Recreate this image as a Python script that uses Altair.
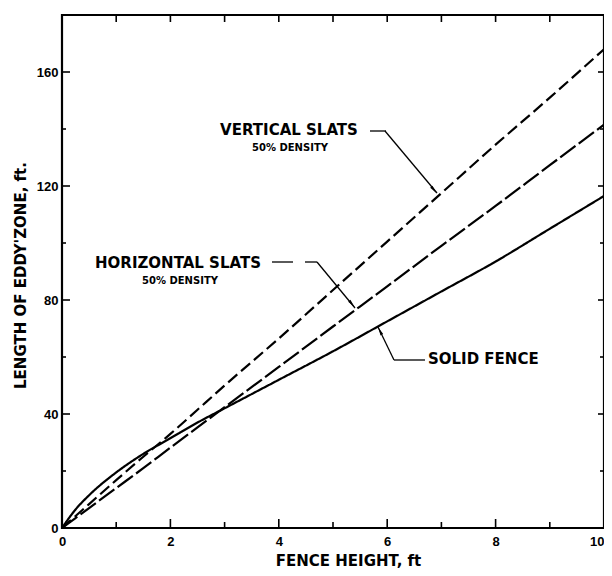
import altair as alt
import pandas as pd

# ---- data ----
fence_height = [0, 0.25, 0.5, 1, 1.5, 2, 2.5, 3, 4, 5, 6, 7, 8, 9, 10]
solid_fence = [0, 6.5, 11.5, 19.5, 26, 31.5, 37, 42, 52, 62, 72.5, 83, 93.5, 105, 116.5]
vertical_slats = [0, 4.2, 8.4, 16.8, 25, 33, 41.5, 50, 66.5, 83.5, 100.5, 117.5, 134.5, 151, 168]
horizontal_slats = [0, 3.5, 7, 14, 21, 28.2, 35.3, 42.4, 56.5, 70.7, 84.8, 99, 113, 127.3, 141.5]

series_names = ["Solid fence", "Horizontal slats", "Vertical slats"]
x_label_values = [0, 2, 4, 6, 8, 10]
y_label_values = [0, 40, 80, 120, 160]
x_major_ticks = [2, 4, 6, 8]
x_minor_ticks = [1, 3, 5, 7, 9]
top_ticks = [1, 2, 3, 4, 5, 6, 7, 8, 9]
y_major_ticks = [40, 80, 120, 160]
y_minor_ticks = [20, 60, 100, 140]

W, H = 542, 513
FONT = "Liberation Sans"
TFONT = "DejaVu Sans"

rows = []
for name, vals in zip(series_names, [solid_fence, horizontal_slats, vertical_slats]):
    for xv, yv in zip(fence_height, vals):
        rows.append({"x": xv, "y": yv, "series": name})
df = pd.DataFrame(rows)

xscale = alt.Scale(domain=[0, 10], nice=False, zero=False)
yscale = alt.Scale(domain=[0, 180], nice=False, zero=False)

lines = alt.Chart(df).mark_line(color="black", strokeWidth=2.2, interpolate="monotone").encode(
    x=alt.X("x:Q", scale=xscale,
            axis=alt.Axis(values=x_label_values, title="FENCE HEIGHT, ft",
                          titleX=286, titleY=32, titleAlign="center", titleBaseline="middle",
                          titleFontSize=15, titleFontWeight="bold", titleFont=TFONT,
                          labelFontSize=13, labelFontWeight="bold", labelFont=FONT,
                          labelAlign=alt.expr("datum.value == 10 ? 'right' : 'center'"),
                          labelPadding=7, ticks=False, domain=False, grid=False,
                          labelFlush=False, labelOverlap=False, labelBound=False)),
    y=alt.Y("y:Q", scale=yscale,
            axis=alt.Axis(values=y_label_values, title="LENGTH OF EDDY'ZONE, ft.",
                          titleX=-42, titleY=260, titleAngle=270, titleAlign="center",
                          titleBaseline="middle",
                          titleFontSize=15, titleFontWeight="bold", titleFont=TFONT,
                          labelFontSize=13, labelFontWeight="bold", labelFont=FONT,
                          labelPadding=4, ticks=False, domain=False, grid=False,
                          labelFlush=False, labelOverlap=False, labelBound=False)),
    strokeDash=alt.StrokeDash("series:N",
                              scale=alt.Scale(domain=series_names,
                                              range=[[1, 0], [19, 4], [12, 5]]),
                              legend=None),
    detail="series:N",
)

# inward tick marks
def xticks(vals, y0, y1):
    return alt.Chart(pd.DataFrame({"v": vals})).mark_rule(color="black", strokeWidth=1.6).encode(
        x=alt.X("v:Q", scale=xscale), y=alt.value(y0), y2=alt.value(y1))

def yticks(vals, x0, x1):
    return alt.Chart(pd.DataFrame({"v": vals})).mark_rule(color="black", strokeWidth=1.6).encode(
        y=alt.Y("v:Q", scale=yscale), x=alt.value(x0), x2=alt.value(x1))

tick_layers = [
    xticks(x_major_ticks, H, H - 9),
    xticks(x_minor_ticks, H, H - 6),
    xticks(top_ticks, 0, 7),
    yticks(y_major_ticks, 0, 8),
    yticks(y_minor_ticks, 0, 4),
    yticks(y_major_ticks, W, W - 6),
    yticks(y_minor_ticks, W, W - 4),
]

# annotation texts
big = dict(font=TFONT, fontSize=15, fontWeight="bold", color="black", baseline="middle")
small = dict(font=TFONT, fontSize=10, fontWeight="bold", color="black", baseline="middle")

base = alt.Chart(pd.DataFrame({"a": [0]}))
texts = [
    base.mark_text(align="center", text="VERTICAL SLATS", **big).encode(x=alt.value(227), y=alt.value(115)),
    base.mark_text(align="center", text="50% DENSITY", **small).encode(x=alt.value(228), y=alt.value(133)),
    base.mark_text(align="center", text="HORIZONTAL SLATS", **big).encode(x=alt.value(116), y=alt.value(248)),
    base.mark_text(align="center", text="50% DENSITY", **small).encode(x=alt.value(118), y=alt.value(266)),
    base.mark_text(align="left", text="SOLID FENCE", **big).encode(x=alt.value(366), y=alt.value(344)),
]

def seg(x1, y1, x2, y2):
    return base.mark_rule(color="black", strokeWidth=1.3).encode(
        x=alt.value(x1), y=alt.value(y1), x2=alt.value(x2), y2=alt.value(y2))

leaders = [
    seg(308, 116, 324, 116), seg(323, 116, 375, 178),
    seg(210, 247, 231, 247), seg(243, 247, 255, 247), seg(255, 247, 293, 293),
    seg(316, 312, 332, 345), seg(332, 345, 363, 345),
]

arrow_shape = "M0,-1L0.35,1L-0.35,1Z"

def arrow(x, y, ang):
    return base.mark_point(shape=arrow_shape, filled=True, color="black", size=70,
                           angle=ang, opacity=1).encode(x=alt.value(x), y=alt.value(y))

arrows = [arrow(372, 175, 140), arrow(290, 289, 140), arrow(318, 316, 334)]

chart = alt.layer(lines, *tick_layers, *texts, *leaders, *arrows).properties(
    width=W, height=H,
    autosize=alt.AutoSizeParams(type="none"),
    padding={"left": 54, "top": 7, "right": 0, "bottom": 40},
    background="white",
).configure_view(stroke="black", strokeWidth=2.2)

chart.save("out.html", embed_options={"renderer": "svg", "actions": False})
